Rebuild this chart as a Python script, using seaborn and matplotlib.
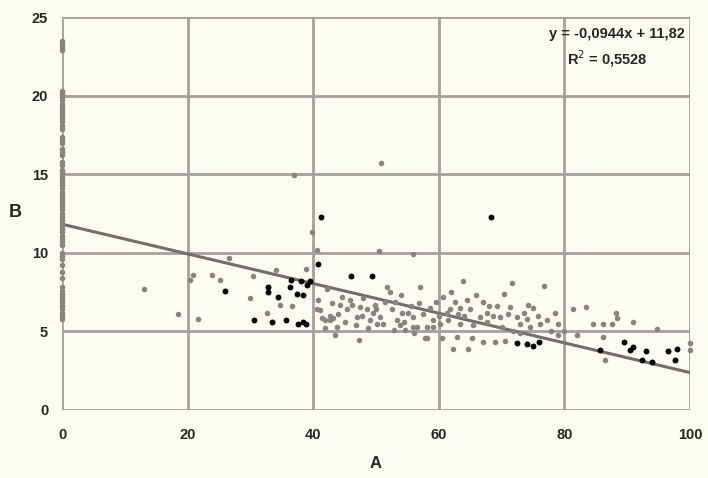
import numpy as np
import pandas as pd
import seaborn as sns
import matplotlib
matplotlib.use("Agg")
import matplotlib.pyplot as plt

# points sitting on A = 0
zero_y = [23.5, 23.3, 23.1, 22.9, 20.3, 20.1, 19.9, 19.7, 19.5, 19.3, 19.1, 18.9,
          18.7, 18.5, 18.3, 18.1, 17.9, 17.4, 17.2, 17.0, 16.6, 16.4, 16.2, 15.8,
          15.6, 15.3, 15.1, 14.9, 14.7, 14.5, 14.3, 14.1, 13.9, 13.7, 13.5, 13.3,
          13.1, 12.9, 12.7, 12.5, 12.3, 12.1, 11.9, 11.7, 11.5, 11.3, 11.1, 10.9,
          10.7, 10.5, 10.0, 9.8, 9.6, 9.2, 8.8, 8.4, 7.8, 7.6, 7.4, 7.2, 7.0, 6.8,
          6.6, 6.4, 6.2, 6.0, 5.8]

# grey points (A, B)
grey_a = [13, 18.5, 20.3, 20.8, 21.7, 23.9, 25.2, 26.6, 30.4, 29.9, 34.1, 34.7, 36.6,
          32.6, 36.9, 38.9, 39.8, 40.6, 50.8, 50.5, 55.9, 47.3,
          41.1, 41.4, 42.7, 43.2, 44.6, 45.9, 46.2, 47.5, 47.8, 48.6, 49.0, 50.2, 50.6,
          51.8, 52.2, 52.5, 53.3, 53.8, 55.1, 56.5, 57.0, 58.1, 58.1, 60.7, 61.3, 43.5,
          40.6, 41.9, 45.4, 47.0, 49.5, 51.1, 54.1, 54.6, 55.9, 59.1, 60.2, 42.2, 42.7,
          63.9, 71.7, 76.8, 70.4, 62.6, 67.0, 69.3, 71.3, 74.2, 75.0, 78.5, 81.4, 61.8,
          63.4, 65.0, 67.7, 68.6, 69.7, 72.5, 61.5, 63.4, 65.4, 67.7, 70.1, 72.9, 74.5,
          76.1, 77.2, 79.0, 62.9, 65.3, 67.0, 68.9, 70.5, 62.2, 64.7, 60.5,
          83.4, 84.5, 86.1, 87.6, 88.2, 88.4, 91.0, 94.7, 82.0, 86.1, 86.4, 100, 100,
          55.9, 57.8, 59.0, 54.5,
          43.0, 44.0, 46.8, 48.0, 49.8, 51.5, 53.0, 54.0, 55.5, 56.8, 57.5, 58.6, 59.6,
          60.0, 62.0, 64.5, 66.0, 66.5, 68.0, 71.0, 73.5, 74.0, 75.8, 77.8, 78.9, 80.0,
          73.0, 71.8, 64.0, 63.0, 50.0, 48.8, 45.0, 52.8, 56.0, 44.2, 40.8, 41.8, 43.8]
grey_b = [7.7, 6.1, 8.3, 8.6, 5.8, 8.6, 8.3, 9.7, 8.5, 7.1, 8.9, 6.7, 6.6,
          6.2, 14.95, 9.0, 11.3, 10.2, 15.7, 10.1, 9.9, 4.45,
          6.36, 5.85, 5.7, 5.85, 7.2, 7.0, 6.7, 6.55, 6.0, 6.4, 5.7, 5.5, 5.9,
          7.8, 7.5, 6.4, 5.7, 5.4, 6.2, 5.3, 7.8, 5.3, 4.6, 7.2, 6.2, 4.8,
          6.4, 5.7, 6.4, 5.9, 6.2, 5.5, 6.2, 5.1, 5.9, 5.7, 5.5, 7.7, 6.0,
          8.2, 8.1, 7.9, 7.4, 6.9, 6.9, 6.6, 6.55, 6.7, 6.5, 6.2, 6.4, 6.4,
          6.5, 6.4, 6.2, 6.0, 5.9, 5.9, 5.7, 5.5, 5.4, 5.6, 5.3, 5.5, 5.3,
          5.5, 5.7, 5.5, 4.65, 4.6, 4.3, 4.3, 4.4, 3.9, 3.9, 4.6,
          6.55, 5.5, 5.5, 5.5, 6.2, 5.85, 5.6, 5.15, 4.8, 4.65, 3.15, 4.25, 3.8,
          5.3, 4.6, 5.3, 5.6,
          6.8, 6.1, 5.4, 7.1, 6.7, 6.9, 6.9, 7.3, 6.6, 6.8, 6.1, 6.5, 6.9,
          6.0, 7.5, 7.0, 7.3, 5.9, 6.6, 6.1, 6.2, 5.8, 6.0, 5.0, 4.8, 5.0,
          4.9, 5.0, 6.0, 6.1, 6.4, 5.2, 5.6, 5.1, 4.9, 6.7, 7.0, 5.2, 5.3]

# black points (A, B)
black_a = [26.0, 41.2, 68.3, 40.8, 46.0, 49.4, 32.8, 32.8, 36.3, 37.4, 38.4, 39.0,
           34.4, 30.6, 33.4, 35.7, 37.6, 38.4, 38.9, 72.5, 74.0, 75.0, 76.0, 85.7,
           89.5, 91.0, 90.4, 93.0, 96.5, 97.9, 92.4, 94.0, 97.6, 36.5, 38.0, 39.5]
black_b = [7.6, 12.3, 12.3, 9.3, 8.5, 8.5, 7.8, 7.5, 7.8, 7.4, 7.3, 7.95,
           7.2, 5.7, 5.6, 5.7, 5.5, 5.6, 5.5, 4.25, 4.2, 4.1, 4.3, 3.8,
           4.3, 4.0, 3.8, 3.75, 3.75, 3.9, 3.2, 3.05, 3.2, 8.3, 8.2, 8.2]

# trend line
slope = -0.0944
intercept = 11.82

bg = "#fcfcf2"
grid_c = "#a99e9e"
pt_c = "#8c8282"

sns.set_style("white", {"axes.facecolor": bg, "figure.facecolor": bg})
plt.rcParams["font.family"] = ["Liberation Sans", "DejaVu Sans"]

grey = pd.DataFrame({"A": [0] * len(zero_y) + grey_a, "B": zero_y + grey_b})
black = pd.DataFrame({"A": black_a, "B": black_b})

fig = plt.figure(figsize=(7.08, 4.78), dpi=100)
ax = fig.add_axes([0.0876, 0.1423, 0.887, 0.822])

for v in range(0, 101, 20):
    ax.axvline(v, color=grid_c, lw=2, zorder=1)
for v in range(0, 26, 5):
    ax.axhline(v, color=grid_c, lw=2, zorder=1)

line_x = np.array([0, 100])
ax.plot(line_x, intercept + slope * line_x, color="#756d6b", lw=2.2, zorder=2)

sns.scatterplot(data=grey, x="A", y="B", ax=ax, color=pt_c, s=16, linewidth=0,
                zorder=3, clip_on=False, legend=False)
sns.scatterplot(data=black, x="A", y="B", ax=ax, color="black", s=18, linewidth=0,
                zorder=4, clip_on=False, legend=False)

ax.set_xlim(0, 100)
ax.set_ylim(0, 25)
ax.set_xticks(range(0, 101, 20))
ax.set_yticks(range(0, 26, 5))
for s in ax.spines.values():
    s.set_visible(False)
ax.tick_params(axis="y", length=5, width=2, color=grid_c, pad=5, labelsize=10.5)
ax.tick_params(axis="x", length=0, pad=13, labelsize=10.5)
for lab in ax.get_xticklabels() + ax.get_yticklabels():
    lab.set_fontweight("bold")

ax.set_xlabel("A", fontsize=12, fontweight="bold", labelpad=10)
ax.set_ylabel("")
fig.text(0.021, 0.555, "B", fontsize=13, fontweight="bold", ha="center", va="center")

ax.text(0.992, 0.957, "y = -0,0944x + 11,82", transform=ax.transAxes,
        ha="right", va="center", fontsize=10.5, fontweight="bold")
ax.text(0.869, 0.893, "R$^2$ = 0,5528", transform=ax.transAxes,
        ha="center", va="center", fontsize=10.5, fontweight="bold")

fig.savefig("out.png", dpi=100, facecolor=bg)
